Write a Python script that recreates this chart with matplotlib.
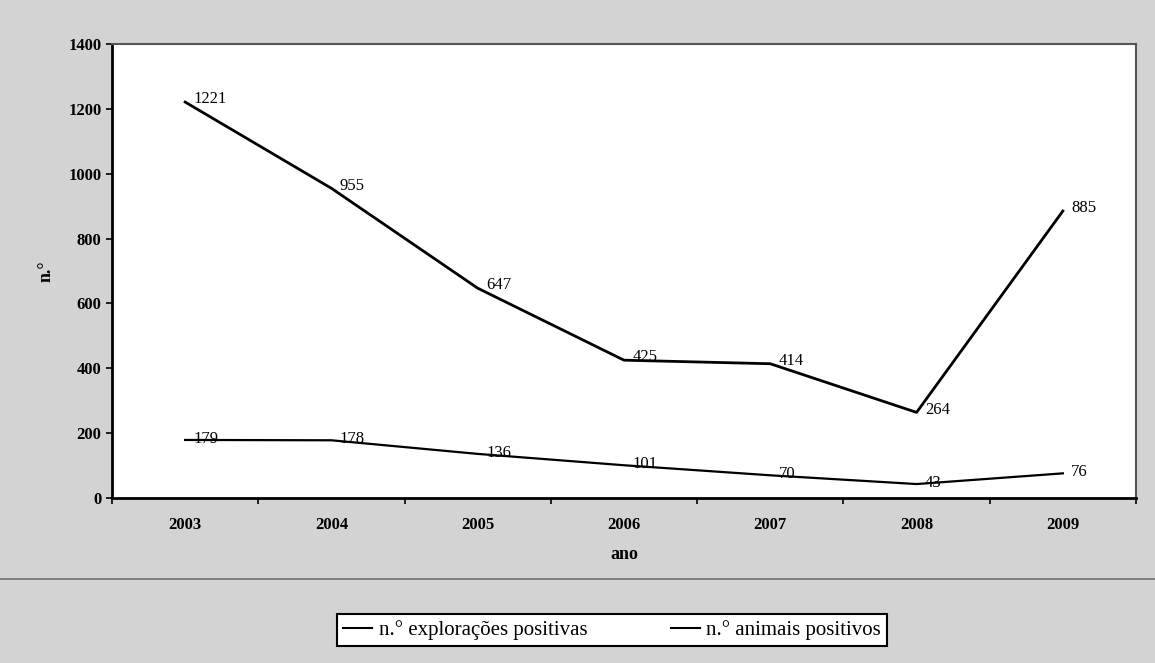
import numpy as np
import matplotlib.pyplot as plt
from matplotlib.lines import Line2D

# dados
anos = ['2003', '2004', '2005', '2006', '2007', '2008', '2009']
exploracoes = [1221, 955, 647, 425, 414, 264, 885]
animais = [179, 178, 136, 101, 70, 43, 76]

serie_nomes = ['n.° explorações positivas', 'n.° animais positivos']


def main():
    plt.rcParams['font.family'] = ['Liberation Serif', 'DejaVu Serif']

    fig = plt.figure(figsize=(11.55, 6.63), dpi=100)
    fig.patch.set_facecolor('#d3d3d3')

    ax = fig.add_axes([112 / 1155, 1 - 498 / 663, 1024 / 1155, 454 / 663])
    ax.set_facecolor('white')

    x = np.arange(len(anos))
    ax.plot(x, exploracoes, color='black', lw=2.0)
    ax.plot(x, animais, color='black', lw=1.6)

    # rótulos de valores
    for xi, v in zip(x, exploracoes):
        ax.annotate(str(v), (xi, v), xytext=(6, 2), textcoords='offset points',
                    fontsize=12, ha='left', va='center')
    for xi, v in zip(x, animais):
        ax.annotate(str(v), (xi, v), xytext=(6, 1), textcoords='offset points',
                    fontsize=12, ha='left', va='center')

    ax.set_xlim(-0.5, len(anos) - 0.5)
    ax.set_ylim(0, 1400)
    ax.set_yticks(range(0, 1401, 200))
    ax.set_yticklabels([str(v) for v in range(0, 1401, 200)],
                       fontweight='bold', fontsize=12)
    ax.set_xticks(x)
    ax.set_xticklabels(anos, fontweight='bold', fontsize=12)
    ax.set_xticks(np.arange(-0.5, len(anos), 1), minor=True)
    ax.tick_params(axis='x', which='major', length=0, pad=14)
    ax.tick_params(axis='x', which='minor', length=4, width=1.2, direction='out')
    ax.tick_params(axis='y', length=4, width=1.2, direction='out')

    ax.set_xlabel('ano', fontweight='bold', fontsize=13, labelpad=9)
    ax.set_ylabel('n.°', fontweight='bold', fontsize=13, labelpad=10)

    for s in ['left', 'bottom']:
        ax.spines[s].set_linewidth(2)
    for s in ['top', 'right']:
        ax.spines[s].set_linewidth(1.5)
        ax.spines[s].set_color('#555555')

    # linha horizontal de fundo
    fig.add_artist(Line2D([0, 1], [1 - 579 / 663] * 2, color='#707070', lw=1.2))

    handles = [Line2D([], [], color='black', lw=1.5) for _ in serie_nomes]
    leg = fig.legend(handles, serie_nomes, loc='center',
                     bbox_to_anchor=(612 / 1155, 1 - 630 / 663), ncol=2,
                     fontsize=15, frameon=True, fancybox=False, framealpha=1,
                     handlelength=1.4, handletextpad=0.3, columnspacing=4.0,
                     borderpad=0.3)
    leg.get_frame().set_edgecolor('black')
    leg.get_frame().set_linewidth(1.5)
    leg.get_frame().set_facecolor('white')

    fig.savefig('out.png', dpi=100, facecolor=fig.get_facecolor())


if __name__ == '__main__':
    main()
